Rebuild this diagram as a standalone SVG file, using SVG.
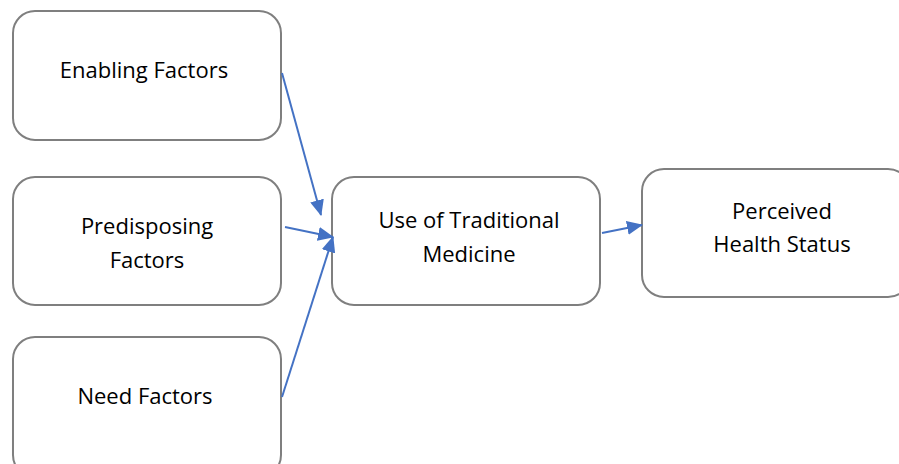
<svg xmlns="http://www.w3.org/2000/svg" width="899" height="464" viewBox="0 0 899 464">
<style>
.box{fill:#fff;stroke:#7f7f7f;stroke-width:2}
.t{font-family:"Open Sans","Liberation Sans",sans-serif;font-size:22px;fill:#000;text-anchor:middle}
.c{stroke:#4472c4;stroke-width:2;fill:none;marker-end:url(#ah)}
</style>
<defs>
<marker id="ah" viewBox="0 0 16 14" refX="15" refY="7" markerWidth="16" markerHeight="14" markerUnits="userSpaceOnUse" orient="auto">
<path d="M0,0 L16,7 L0,14 z" fill="#4472c4"/>
</marker>
</defs>
<rect width="899" height="464" fill="#fff"/>
<g id="enabling"><rect class="box" x="13" y="11" width="268" height="129" rx="22"/><text class="t" x="144" y="78">Enabling Factors</text></g>
<g id="predisposing"><rect class="box" x="13" y="177" width="268" height="128" rx="22"/><text class="t" x="147" y="234">Predisposing</text><text class="t" x="147" y="268">Factors</text></g>
<g id="need"><rect class="box" x="13" y="337" width="268" height="140" rx="22"/><text class="t" x="145" y="404">Need Factors</text></g>
<g id="use"><rect class="box" x="332" y="177" width="268" height="128" rx="22"/><text class="t" x="469" y="228">Use of Traditional</text><text class="t" x="469" y="262">Medicine</text></g>
<g id="perceived"><rect class="box" x="642" y="169" width="268" height="128" rx="22"/><text class="t" x="782" y="219">Perceived</text><text class="t" x="782" y="252">Health Status</text></g>
<g id="connectors">
<line class="c" x1="282" y1="73" x2="321" y2="215"/>
<line class="c" x1="285" y1="227" x2="333" y2="237"/>
<line class="c" x1="282" y1="397" x2="333" y2="237"/>
<line class="c" x1="602" y1="233" x2="642" y2="225"/>
</g>
</svg>
